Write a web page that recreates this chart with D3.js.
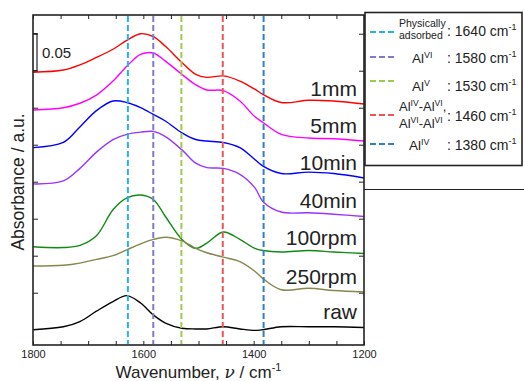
<!DOCTYPE html>
<html>
<head>
<meta charset="utf-8">
<script src="https://cdn.jsdelivr.net/npm/d3@7"></script>
<style>
	body { margin: 0; background: #fff; }
	svg text { font-family: "Liberation Sans", Arial, sans-serif; fill: #222; }
</style>
</head>
<body>
<script>
(function() {
	"use strict";
	// wavenumber grid (cm-1) shared by all spectra
	const WN = [1800, 1745, 1715, 1685, 1655, 1630, 1605, 1582, 1560, 1530,
	            1505, 1485, 1455, 1425, 1398, 1383, 1350, 1300, 1255, 1200];
	// absorbance, already stacked as drawn
	const S_1MM = [0.298, 0.301, 0.308, 0.318, 0.329, 0.341, 0.350, 0.346, 0.333, 0.311,
	               0.295, 0.291, 0.293, 0.286, 0.275, 0.268, 0.257, 0.260, 0.259, 0.255],
	   S_5MM = [0.247, 0.250, 0.256, 0.267, 0.286, 0.306, 0.322, 0.324, 0.313, 0.295,
	            0.281, 0.274, 0.273, 0.259, 0.238, 0.230, 0.214, 0.209, 0.208, 0.205],
	   S_10MIN = [0.196, 0.203, 0.224, 0.246, 0.259, 0.257, 0.250, 0.241, 0.232, 0.216,
	              0.207, 0.205, 0.203, 0.196, 0.180, 0.171, 0.161, 0.163, 0.161, 0.155],
	   S_40MIN = [0.147, 0.151, 0.168, 0.190, 0.207, 0.214, 0.217, 0.218, 0.211, 0.193,
	              0.175, 0.169, 0.168, 0.160, 0.142, 0.123, 0.109, 0.108, 0.106, 0.103],
	   S_100RPM = [0.062, 0.061, 0.064, 0.077, 0.112, 0.128, 0.132, 0.126, 0.103, 0.072,
	               0.060, 0.067, 0.082, 0.072, 0.060, 0.057, 0.055, 0.057, 0.055, 0.053],
	   S_250RPM = [0.036, 0.037, 0.040, 0.045, 0.050, 0.058, 0.066, 0.072, 0.075, 0.070,
	               0.060, 0.054, 0.048, 0.042, 0.029, 0.019, 0.004, 0.006, 0.003, 0.001],
	   S_RAW = [-0.050, -0.046, -0.039, -0.025, -0.012, -0.004, -0.014, -0.030, -0.041, -0.048,
	            -0.049, -0.049, -0.046, -0.049, -0.051, -0.050, -0.046, -0.046, -0.046, -0.047];
	const SERIES = [S_1MM, S_5MM, S_10MIN, S_40MIN, S_100RPM, S_250RPM, S_RAW],
	   NAMES = ["1mm", "5mm", "10min", "40min", "100rpm", "250rpm", "raw"],
	   COLORS = ["#ff0000", "#ff00ff", "#0000ff", "#9933ff", "#108a10", "#86864e", "#000000"];
	// assignment lines: drawn position, legend value, colour
	const MARK_WN = [1628, 1582, 1531, 1456, 1382],
	   MARK_LABEL = [1640, 1580, 1530, 1460, 1380],
	   MARK_COLOR = ["#22b4e8", "#7b7bd4", "#9ccc4c", "#f25454", "#2f80cc"];
	const X_TICKS = [1800, 1600, 1400, 1200];

	const W = 524, H = 381,
	   m = { l: 33, r: 364, t: 15, b: 345 };
	let svg = d3.select("body").append("svg").attr("width", W).attr("height", H);

	const x = d3.scaleLinear().domain([1800, 1200]).range([m.l, m.r]),
	   y = d3.scaleLinear().domain([-0.0707, 0.3753]).range([m.b, m.t]);

	// axes, ticks pointing inward
	const minor = d3.range(1200, 1801, 50);
	svg.append("g").attr("transform", "translate(0," + m.b + ")")
		.call(d3.axisBottom(x).tickValues(minor).tickSize(-4).tickPadding(5)
			.tickFormat(d => X_TICKS.includes(d) ? d : ""))
		.call(g => g.select(".domain").remove())
		.call(g => g.selectAll("text").attr("font-size", 11).attr("fill", "#333"));
	svg.append("g").attr("transform", "translate(0," + m.t + ")")
		.call(d3.axisTop(x).tickValues(minor).tickSize(-4).tickFormat(""))
		.call(g => g.select(".domain").remove());
	const yt = d3.range(0, 0.351, 0.05);
	svg.append("g").attr("transform", "translate(" + m.l + ",0)")
		.call(d3.axisLeft(y).tickValues(yt).tickSize(-5).tickFormat(""))
		.call(g => g.select(".domain").remove());
	svg.append("g").attr("transform", "translate(" + m.r + ",0)")
		.call(d3.axisRight(y).tickValues(yt).tickSize(-5).tickFormat(""))
		.call(g => g.select(".domain").remove());
	svg.selectAll(".tick line").attr("stroke", "#222").attr("stroke-width", 1);

	// spectra
	const line = d3.line().x((d, i) => x(WN[i])).y(d => y(d)).curve(d3.curveCatmullRom.alpha(0.5));
	svg.selectAll("path.spec").data(SERIES).enter().append("path")
		.attr("class", "spec").attr("d", line).attr("fill", "none")
		.attr("stroke", (d, i) => COLORS[i]).attr("stroke-width", 1.4);

	svg.selectAll("text.name").data(SERIES).enter().append("text")
		.attr("class", "name").attr("x", 357)
		.attr("y", d => y(d[d.length - 1]) - 8)
		.attr("text-anchor", "end").attr("font-size", 21)
		.text((d, i) => NAMES[i]);

	// dashed assignment lines
	svg.selectAll("line.mark").data(MARK_WN).enter().append("line")
		.attr("class", "mark")
		.attr("x1", d => x(d)).attr("x2", d => x(d))
		.attr("y1", m.t + 1).attr("y2", m.b - 1)
		.attr("stroke", (d, i) => MARK_COLOR[i]).attr("stroke-width", 2)
		.attr("stroke-dasharray", "6,3");

	// frame
	svg.append("rect").attr("x", m.l).attr("y", m.t)
		.attr("width", m.r - m.l).attr("height", m.b - m.t)
		.attr("fill", "none").attr("stroke", "#222").attr("stroke-width", 1.6);

	// 0.05 scale bar
	const sb = svg.append("g").attr("fill", "none").attr("stroke", "#222").attr("stroke-width", 1.2);
	sb.append("path").attr("d", "M" + m.l + "," + y(0.35) + "H" + (m.l + 4) +
		"V" + y(0.30) + "H" + m.l);
	svg.append("text").attr("x", 42).attr("y", 58).attr("font-size", 15).text("0.05");

	// axis titles
	let xl = svg.append("text").attr("x", (m.l + m.r) / 2).attr("y", 378)
		.attr("text-anchor", "middle").attr("font-size", 17);
	xl.append("tspan").text("Wavenumber, ");
	xl.append("tspan").attr("font-style", "italic").attr("font-family", "DejaVu Serif, serif").text("\u03bd");
	xl.append("tspan").text(" / cm");
	xl.append("tspan").attr("font-size", 11).attr("dy", -7).text("-1");
	svg.append("text").attr("transform", "translate(24,182) rotate(-90)")
		.attr("text-anchor", "middle").attr("font-size", 17.5).text("Absorbance / a.u.");

	// legend
	let lg = svg.append("g");
	lg.append("rect").attr("x", 365).attr("y", 12.5).attr("width", 157).attr("height", 153)
		.attr("fill", "#fff").attr("stroke", "#222").attr("stroke-width", 1.6);
	svg.append("line").attr("x1", m.r).attr("x2", W).attr("y1", 189.5).attr("y2", 189.5)
		.attr("stroke", "#222").attr("stroke-width", 1);
	const rowY = [32, 57, 81, 115, 144],
	   valY = [36, 63, 91, 121, 150];
	lg.selectAll("line.key").data(MARK_COLOR).enter().append("line")
		.attr("class", "key").attr("x1", 370).attr("x2", 394)
		.attr("y1", (d, i) => rowY[i]).attr("y2", (d, i) => rowY[i])
		.attr("stroke", d => d).attr("stroke-width", 2).attr("stroke-dasharray", "6,3");
	let vt = lg.selectAll("text.val").data(MARK_LABEL).enter().append("text")
		.attr("class", "val").attr("x", 447).attr("y", (d, i) => valY[i])
		.attr("font-size", 14);
	vt.append("tspan").text(d => ": " + d + " cm");
	vt.append("tspan").attr("font-size", 9).attr("dy", -6).text("-1");

	lg.append("text").attr("x", 399).attr("y", 27).attr("font-size", 10.5).text("Physically");
	lg.append("text").attr("x", 399).attr("y", 39).attr("font-size", 10.5).text("adsorbed");
	// "Al" labels with roman-numeral superscripts
	function al(x0, y0, parts, fs) {
		let t = lg.append("text").attr("x", x0).attr("y", y0).attr("font-size", fs),
		   up = false;
		parts.forEach(p => {
			const sup = p[1] === 1;
			let dy = 0;
			if (sup && !up) dy = -5;
			if (!sup && up) dy = 5;
			up = sup;
			t.append("tspan").attr("dy", dy).attr("font-size", sup ? fs * 0.66 : fs).text(p[0]);
		});
	}
	al(412, 63, [["Al", 0], ["VI", 1]], 13.5);
	al(412, 91, [["Al", 0], ["V", 1]], 13.5);
	al(399, 111, [["Al", 0], ["IV", 1], ["-Al", 0], ["VI", 1], [",", 0]], 13);
	al(399, 128, [["Al", 0], ["VI", 1], ["-Al", 0], ["VI", 1]], 13);
	al(409, 150, [["Al", 0], ["IV", 1]], 13.5);
}());
</script>
</body>
</html>
